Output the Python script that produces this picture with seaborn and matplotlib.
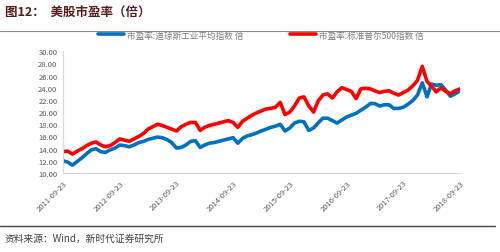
import matplotlib
matplotlib.use("Agg")
import matplotlib.pyplot as plt
import seaborn as sns
import pandas as pd
from matplotlib.lines import Line2D

# ---------------- data ----------------
start_date = "2011-09-23"
n_months = 85
dji_pe = [12.0, 11.8, 11.3, 11.9, 12.5, 13.2, 13.8, 14.0, 13.5, 13.4, 13.8, 14.1,
          14.6, 14.5, 14.3, 14.6, 15.0, 15.2, 15.5, 15.7, 15.9, 15.8, 15.5, 15.0,
          14.1, 14.2, 14.6, 15.2, 15.3, 14.2, 14.6, 14.9, 15.0, 15.2, 15.4, 15.6,
          15.8, 14.9, 15.7, 16.1, 16.3, 16.6, 16.9, 17.2, 17.5, 17.7, 18.0, 16.9,
          17.4, 18.2, 18.5, 18.4, 17.0, 17.4, 18.2, 19.0, 19.0, 18.6, 18.2, 18.7,
          19.2, 19.5, 19.8, 20.3, 20.8, 21.4, 21.4, 21.0, 21.2, 21.2, 20.6, 20.6,
          20.8, 21.3, 21.9, 22.8, 24.8, 22.5, 24.6, 24.4, 24.5, 23.6, 22.6, 23.0,
          23.5]
spx_pe = [13.5, 13.6, 13.1, 13.6, 14.0, 14.5, 14.9, 15.1, 14.6, 14.3, 14.5, 15.0,
          15.6, 15.4, 15.2, 15.6, 16.0, 16.5, 17.2, 17.6, 18.0, 17.8, 17.5, 17.2,
          16.9, 17.6, 18.0, 18.3, 18.3, 17.0, 17.5, 17.8, 18.0, 18.2, 18.4, 18.6,
          18.3, 17.5, 18.5, 19.0, 19.5, 19.9, 20.2, 20.5, 20.6, 20.8, 21.6, 19.6,
          20.0, 21.0, 22.3, 22.5, 21.0, 20.0, 21.8, 22.8, 23.0, 22.3, 23.3, 24.0,
          23.7, 23.4, 22.2, 23.8, 23.9, 23.8, 23.5, 23.2, 23.4, 23.5, 23.1, 22.8,
          23.2, 23.6, 24.3, 25.2, 27.5, 25.0, 24.3, 23.3, 24.0, 23.4, 23.0, 23.5,
          23.8]
series_names = ["市盈率:道琼斯工业平均指数 倍", "市盈率:标准普尔500指数 倍"]
series_colors = ["#0070C0", "#FF0000"]
tick_dates = ["2011-09-23", "2012-09-23", "2013-09-23", "2014-09-23",
              "2015-09-23", "2016-09-23", "2017-09-23", "2018-09-23"]
y_ticks = [10, 12, 14, 16, 18, 20, 22, 24, 26, 28, 30]
title_text = "图12：  美股市盈率（倍）"
source_text = "资料来源：Wind，新时代证券研究所"

# ---------------- build ----------------
dates = pd.date_range(start_date, periods=n_months, freq=pd.DateOffset(months=1))
df = pd.DataFrame({"date": dates, series_names[0]: dji_pe, series_names[1]: spx_pe})

sns.set_theme(style="white")
plt.rcParams["font.family"] = ["Noto Sans CJK SC", "DejaVu Sans"]
plt.rcParams["axes.unicode_minus"] = False

fig = plt.figure(figsize=(5.0, 2.53), dpi=100)
ax = fig.add_axes([0.126, 0.312, 0.794, 0.482])

for name, col in zip(series_names, series_colors):
    sns.lineplot(data=df, x="date", y=name, ax=ax, color=col, linewidth=2.6,
                 legend=False)

ax.set_xlim(pd.Timestamp(tick_dates[0]), pd.Timestamp(tick_dates[-1]))
ax.set_ylim(10, 30)
ax.set_yticks(y_ticks)
ax.set_yticklabels([f"{v:.2f}" for v in y_ticks])
ax.set_xticks(pd.to_datetime(tick_dates))
ax.set_xticklabels(tick_dates, rotation=45, ha="right", rotation_mode="anchor")
ax.set_xlabel("")
ax.set_ylabel("")
ax.grid(False)

for s in ["top", "right"]:
    ax.spines[s].set_visible(False)
for s in ["left", "bottom"]:
    ax.spines[s].set_color("#d9d9d9")
    ax.spines[s].set_linewidth(0.8)
ax.tick_params(axis="both", labelsize=5.5, colors="#595959", length=2,
               width=0.6, pad=2)
ax.tick_params(axis="both", color="#d9d9d9")

handles = [Line2D([0], [0], color=c, linewidth=2.6) for c in series_colors]
fig.legend(handles, series_names, loc="center", ncol=2,
           bbox_to_anchor=(0.522, 1 - 36 / 253), frameon=False,
           fontsize=6.2, handlelength=3.0, columnspacing=5.5, handletextpad=0.3,
           labelcolor="#7f7f7f")

fig.text(0.01, 1 - 13 / 253, title_text, fontsize=9, fontweight="bold",
         color="#5c1a1a", va="center", ha="left")
fig.add_artist(Line2D([0, 1], [1 - 32 / 253, 1 - 32 / 253],
                      transform=fig.transFigure, color="#8c8c8c", linewidth=0.8))
fig.add_artist(Line2D([0, 0.99], [1 - 227 / 253, 1 - 227 / 253],
                      transform=fig.transFigure, color="#404040", linewidth=1.0))
fig.text(0.01, 1 - 239 / 253, source_text, fontsize=7, color="#404040",
         va="center", ha="left")

fig.savefig("out.png", dpi=100)
